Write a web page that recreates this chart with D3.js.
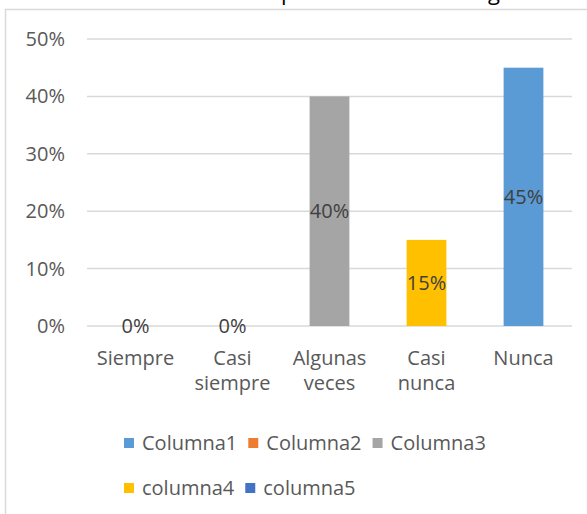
<!DOCTYPE html>
<html>
<head>
<meta charset="utf-8">
<script src="https://cdn.jsdelivr.net/npm/d3@7"></script>
<style>
  body { margin: 0; background: #fff; }
  text { font-family: "Open Sans", sans-serif; }
</style>
</head>
<body>
<div id="chart"></div>
<script>
// data
var categories = ["Siempre", "Casi siempre", "Algunas veces", "Casi nunca", "Nunca"];
var values = [0, 0, 0.40, 0.15, 0.45];
var series_names = ["Columna1", "Columna2", "Columna3", "columna4", "columna5"];
var series_colors = ["#5B9BD5", "#ED7D31", "#A5A5A5", "#FFC000", "#4472C4"];
var bar_series = [4, 1, 2, 3, 0]; // which series colours each bar
var y_ticks = [0, 0.1, 0.2, 0.3, 0.4, 0.5];

var chart_width = 587;
var chart_height = 514;
var font_size = 20;

var svg = d3.select('#chart')
  .append('svg')
  .attr('width', chart_width)
  .attr('height', chart_height);

// bits of the document text above the chart (only descenders show)
svg.append('text')
  .attr('x', 281).attr('y', 0)
  .attr('font-family', '"Liberation Serif", serif')
  .attr('font-size', 22)
  .attr('fill', '#000')
  .text('p');
svg.append('text')
  .attr('x', 488).attr('y', 0)
  .attr('font-family', '"Liberation Serif", serif')
  .attr('font-size', 22)
  .attr('fill', '#000')
  .text('g');

// chart area border (cropped at right and bottom)
svg.append('path')
  .attr('d', 'M5.5,' + chart_height + 'V9.5H' + chart_width)
  .attr('fill', 'none')
  .attr('stroke', '#D9D9D9')
  .attr('stroke-width', 1.5);

// scales
var x_scale = d3.scaleBand()
  .domain(categories)
  .range([87, 572]);

var bar_width = x_scale.bandwidth() * 0.41;

var y_scale = d3.scaleLinear()
  .domain([0, 0.5])
  .range([326, 39]);

var pct = d3.format('.0%');

// gridlines
svg.selectAll('line.grid')
  .data(y_ticks)
  .enter()
  .append('line')
  .attr('class', 'grid')
  .attr('x1', 87)
  .attr('x2', 572)
  .attr('y1', function(d) { return y_scale(d); })
  .attr('y2', function(d) { return y_scale(d); })
  .attr('stroke', '#D9D9D9')
  .attr('stroke-width', 1.5);

// y axis labels
var y_axis = d3.axisLeft(y_scale)
  .tickValues(y_ticks)
  .tickFormat(pct)
  .tickSize(0)
  .tickPadding(22);

svg.append('g')
  .attr('transform', 'translate(87,0)')
  .call(y_axis)
  .call(function(g) { g.select('.domain').remove(); })
  .selectAll('text')
  .attr('font-family', '"Open Sans", sans-serif')
  .attr('font-size', font_size)
  .attr('fill', '#595959');

// bars
svg.selectAll('rect.bar')
  .data(values)
  .enter()
  .append('rect')
  .attr('class', 'bar')
  .attr('x', function(d, i) {
    return x_scale(categories[i]) + (x_scale.bandwidth() - bar_width) / 2;
  })
  .attr('y', function(d) { return y_scale(d); })
  .attr('width', bar_width)
  .attr('height', function(d) { return y_scale(0) - y_scale(d); })
  .attr('fill', function(d, i) { return series_colors[bar_series[i]]; });

// data labels, centred on the bars
svg.selectAll('text.value')
  .data(values)
  .enter()
  .append('text')
  .attr('class', 'value')
  .attr('x', function(d, i) {
    return x_scale(categories[i]) + x_scale.bandwidth() / 2;
  })
  .attr('y', function(d) { return (y_scale(d) + y_scale(0)) / 2; })
  .attr('dy', '0.35em')
  .attr('text-anchor', 'middle')
  .attr('font-size', font_size)
  .attr('fill', '#404040')
  .text(function(d) { return pct(d); });

// category labels, wrapped on spaces
var cat_labels = svg.selectAll('text.cat')
  .data(categories)
  .enter()
  .append('text')
  .attr('class', 'cat')
  .attr('x', function(d) { return x_scale(d) + x_scale.bandwidth() / 2; })
  .attr('y', 365)
  .attr('text-anchor', 'middle')
  .attr('font-size', font_size)
  .attr('fill', '#595959');

cat_labels.selectAll('tspan')
  .data(function(d) { return d.split(' '); })
  .enter()
  .append('tspan')
  .attr('x', function() { return d3.select(this.parentNode).attr('x'); })
  .attr('dy', function(d, i) { return i ? 25 : 0; })
  .text(function(d) { return d; });

// legend, two rows
var legend_rows = [[0, 1, 2], [3, 4]];
var legend_y = [443, 488];

legend_rows.forEach(function(row, r) {
  var lx = 124;
  row.forEach(function(s) {
    svg.append('rect')
      .attr('x', lx)
      .attr('y', legend_y[r] - 5)
      .attr('width', 10)
      .attr('height', 10)
      .attr('fill', series_colors[s]);
    var t = svg.append('text')
      .attr('x', lx + 18)
      .attr('y', legend_y[r])
      .attr('dy', '0.35em')
      .attr('font-size', font_size)
      .attr('fill', '#595959')
      .text(series_names[s]);
    lx += 18 + t.node().getComputedTextLength() + 11;
  });
});
</script>
</body>
</html>
